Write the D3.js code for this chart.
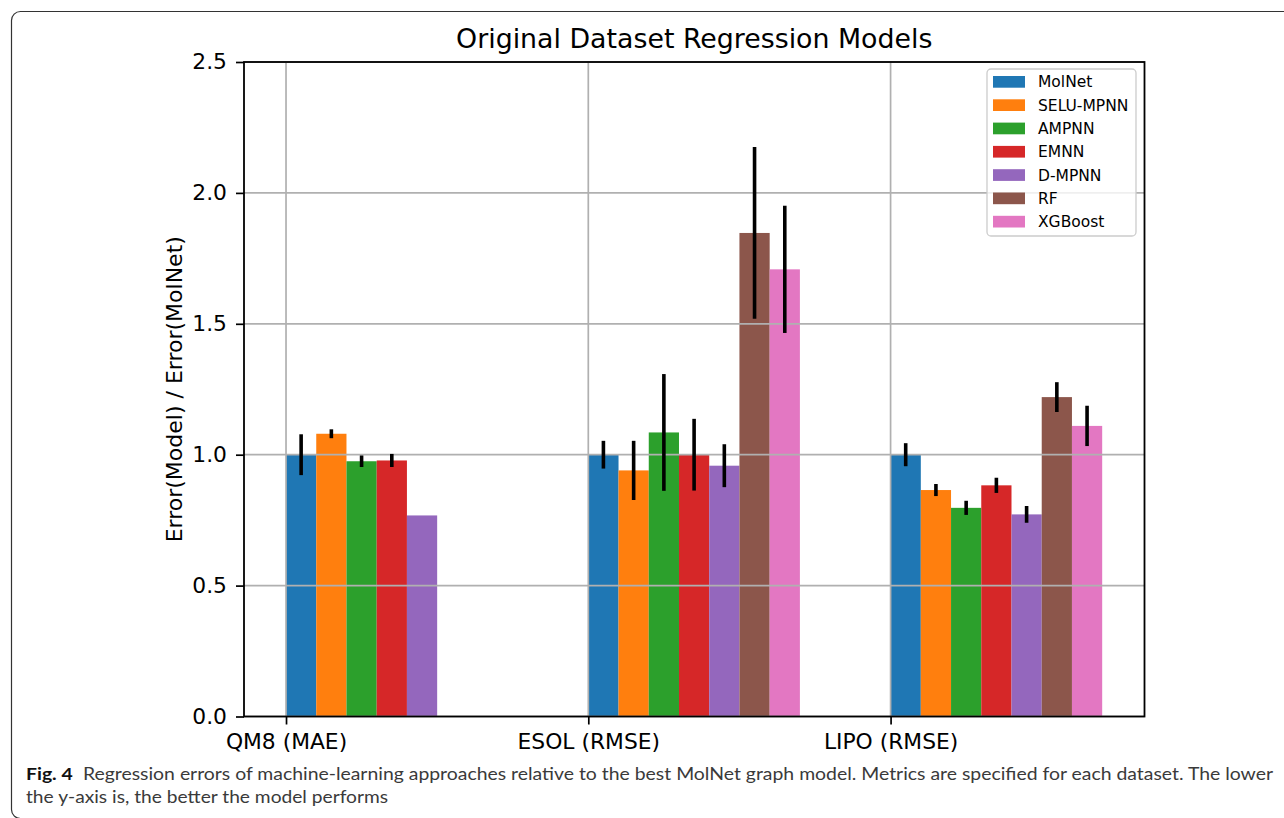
<!DOCTYPE html>
<html>
<head>
<meta charset="utf-8">
<script src="https://cdn.jsdelivr.net/npm/d3@7"></script>
<style>
  body { margin: 0; background: #fff; }
  svg { display: block; }
</style>
</head>
<body>
<svg id="chart" width="1284" height="818"></svg>
<script>
// data
const categories = ["QM8 (MAE)", "ESOL (RMSE)", "LIPO (RMSE)"];
const models = ["MolNet", "SELU-MPNN", "AMPNN", "EMNN", "D-MPNN", "RF", "XGBoost"];
const colors = ["#1f77b4", "#ff7f0e", "#2ca02c", "#d62728", "#9467bd", "#8c564b", "#e377c2"];

const molnetVals = [1.0, 1.0, 1.0];
const seluVals   = [1.08, 0.94, 0.865];
const ampnnVals  = [0.975, 1.085, 0.797];
const emnnVals   = [0.978, 1.0, 0.883];
const dmpnnVals  = [0.768, 0.958, 0.772];
const rfVals     = [null, 1.847, 1.22];
const xgbVals    = [null, 1.708, 1.11];

const molnetErr = [0.078, 0.053, 0.044];
const seluErr   = [0.017, 0.113, 0.023];
const ampnnErr  = [0.022, 0.223, 0.027];
const emnnErr   = [0.025, 0.137, 0.029];
const dmpnnErr  = [null, 0.082, 0.032];
const rfErr     = [null, 0.328, 0.057];
const xgbErr    = [null, 0.243, 0.077];

const yTicks = [0, 0.5, 1.0, 1.5, 2.0, 2.5];

const allVals = [molnetVals, seluVals, ampnnVals, emnnVals, dmpnnVals, rfVals, xgbVals];
const allErr = [molnetErr, seluErr, ampnnErr, emnnErr, dmpnnErr, rfErr, xgbErr];

const barW = 0.1;
const rows = [];
models.forEach((m, i) => {
  categories.forEach((c, j) => {
    if (allVals[i][j] == null) return;
    rows.push({ model: m, i: i, pos: j + i * barW, value: allVals[i][j], err: allErr[i][j] });
  });
});

const svg = d3.select("#chart");
const plot = { left: 244, right: 1144.5, top: 62, bottom: 716.5 };

// figure frame
svg.append("rect")
  .attr("x", 11.5).attr("y", 11.5)
  .attr("width", 1400).attr("height", 807)
  .attr("rx", 9)
  .attr("fill", "none")
  .attr("stroke", "#333").attr("stroke-width", 1.2);

const x = d3.scaleLinear().domain([-0.139, 2.840]).range([plot.left, plot.right]);
const y = d3.scaleLinear().domain([0, 2.5]).range([plot.bottom, plot.top]);

const font = "'DejaVu Sans', sans-serif";

// bars
svg.append("g").selectAll("rect")
  .data(rows)
  .join("rect")
  .attr("x", d => x(d.pos))
  .attr("width", d => x(d.pos + barW) - x(d.pos))
  .attr("y", d => y(d.value))
  .attr("height", d => y(0) - y(d.value))
  .attr("fill", d => colors[d.i]);

// grid (drawn over bars, like the original)
const grid = svg.append("g").attr("stroke", "#b0b0b0").attr("stroke-width", 1.7);
grid.selectAll("line.h")
  .data(yTicks)
  .join("line")
  .attr("class", "h")
  .attr("x1", plot.left).attr("x2", plot.right)
  .attr("y1", d => y(d)).attr("y2", d => y(d));
grid.selectAll("line.v")
  .data(categories)
  .join("line")
  .attr("class", "v")
  .attr("x1", (d, j) => x(j)).attr("x2", (d, j) => x(j))
  .attr("y1", plot.top).attr("y2", plot.bottom);

// error bars
svg.append("g").selectAll("line")
  .data(rows.filter(d => d.err != null))
  .join("line")
  .attr("x1", d => x(d.pos + barW / 2))
  .attr("x2", d => x(d.pos + barW / 2))
  .attr("y1", d => y(d.value - d.err))
  .attr("y2", d => y(d.value + d.err))
  .attr("stroke", "#000")
  .attr("stroke-width", 3.6);

// axes
const yAxis = svg.append("g")
  .attr("transform", `translate(${plot.left},0)`)
  .call(d3.axisLeft(y).tickValues(yTicks).tickFormat(d3.format(".1f")).tickSize(8).tickPadding(9));
const xAxis = svg.append("g")
  .attr("transform", `translate(0,${plot.bottom})`)
  .call(d3.axisBottom(x).tickValues([0, 1, 2]).tickFormat((d) => categories[d]).tickSize(8).tickPadding(9));

[yAxis, xAxis].forEach(a => {
  a.select(".domain").remove();
  a.selectAll("line").attr("stroke", "#000").attr("stroke-width", 1.7);
  a.selectAll("text").attr("fill", "#000").style("font-family", font).style("font-size", "21.8px");
});

// spines
svg.append("rect")
  .attr("x", plot.left).attr("y", plot.top)
  .attr("width", plot.right - plot.left).attr("height", plot.bottom - plot.top)
  .attr("fill", "none").attr("stroke", "#000").attr("stroke-width", 1.8);

// title + y label
svg.append("text")
  .attr("x", (plot.left + plot.right) / 2).attr("y", 48)
  .attr("text-anchor", "middle")
  .style("font-family", font).style("font-size", "26.8px")
  .text("Original Dataset Regression Models");

svg.append("text")
  .attr("transform", `translate(182,${(plot.top + plot.bottom) / 2}) rotate(-90)`)
  .attr("text-anchor", "middle")
  .style("font-family", font).style("font-size", "22px")
  .text("Error(Model) / Error(MolNet)");

// legend
const lg = svg.append("g").attr("transform", "translate(987,69)");
lg.append("rect")
  .attr("width", 149).attr("height", 167).attr("rx", 4)
  .attr("fill", "#fff").attr("fill-opacity", 0.8)
  .attr("stroke", "#cccccc").attr("stroke-width", 1.3);
const item = lg.selectAll("g.item")
  .data(models)
  .join("g")
  .attr("class", "item")
  .attr("transform", (d, i) => `translate(0,${13 + i * 23.3})`);
item.append("rect")
  .attr("x", 6).attr("y", -6).attr("width", 32).attr("height", 11.7)
  .attr("fill", (d, i) => colors[i]);
item.append("text")
  .attr("x", 51).attr("dy", "0.35em")
  .style("font-family", font).style("font-size", "15.5px")
  .text(d => d);

// caption
const capFont = "Lato, 'Open Sans', sans-serif";
const cap1 = svg.append("text")
  .attr("x", 26).attr("y", 780)
  .style("font-family", capFont).style("font-size", "17px").attr("fill", "#3a3a3a");
cap1.append("tspan").style("font-weight", "bold").attr("fill", "#111").text("Fig. 4");
cap1.append("tspan").attr("dx", 9)
  .text("Regression errors of machine-learning approaches relative to the best MolNet graph model. Metrics are specified for each dataset. The lower");
cap1.attr("textLength", 1247).attr("lengthAdjust", "spacingAndGlyphs");

const cap2 = svg.append("text")
  .attr("x", 26).attr("y", 803)
  .style("font-family", capFont).style("font-size", "17px").attr("fill", "#3a3a3a")
  .text("the y-axis is, the better the model performs");
cap2.attr("textLength", 362).attr("lengthAdjust", "spacingAndGlyphs");
</script>
</body>
</html>
